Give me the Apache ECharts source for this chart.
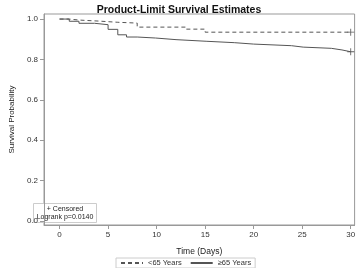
<!DOCTYPE html>
<html>
<head>
<meta charset="utf-8">
<script src="https://cdn.jsdelivr.net/npm/echarts@6/dist/echarts.min.js"></script>
<style>
  html, body { margin: 0; padding: 0; background: #fff; }
  #chart { width: 358px; height: 268px; }
</style>
</head>
<body>
<div id="chart"></div>
<script>
// KM step points [day, survival] for each group
const youngSteps = [[0, 1.0], [1, 0.995], [2, 0.99], [4, 0.984], [6, 0.98], [8, 0.96], [13, 0.95], [15, 0.935], [30, 0.935]];
const oldSteps = [[0, 1.0], [1, 0.989], [2, 0.979], [3.6, 0.972], [5, 0.949], [6, 0.922], [6.9, 0.911], [8, 0.906], [9.9, 0.898], [12, 0.89], [15.1, 0.883], [18, 0.876], [20, 0.868], [23.9, 0.861], [25.1, 0.855], [28, 0.847], [29.1, 0.838], [30, 0.838]];
const youngCensored = [[30, 0.935]];
const oldCensored = [[30, 0.838]];
const xTicks = [0, 5, 10, 15, 20, 25, 30];
const yTicks = [0, 0.2, 0.4, 0.6, 0.8, 1.0];

const chart = echarts.init(document.getElementById('chart'));
const font = 'Liberation Sans, Arial, sans-serif';
const lineCol = '#555';
const plus = 'path://M0,4.4h10v1.2h-10z M4.4,0h1.2v10h-1.2z';

chart.setOption({
  animation: false,
  title: {
    text: 'Product-Limit Survival Estimates',
    left: 'center',
    top: 0,
    textStyle: { fontFamily: font, fontSize: 10.5, fontWeight: 'bold', color: '#111' }
  },
  grid: {
    left: 30, right: 2, top: 14, bottom: 43,
    show: true, borderColor: '#999', borderWidth: 1
  },
  legend: {
    data: ['<65 Years', '\u226565 Years'],
    bottom: 0,
    left: 116,
    itemWidth: 22,
    itemHeight: 8,
    itemGap: 8,
    padding: [1, 4],
    borderColor: '#ccc',
    borderWidth: 1,
    itemStyle: { opacity: 0 },
    textStyle: { fontFamily: font, fontSize: 7.5, color: '#333' }
  },
  xAxis: {
    type: 'value',
    min: -1.6,
    max: 30.4,
    name: 'Time (Days)',
    nameLocation: 'middle',
    nameGap: 22,
    nameTextStyle: { fontFamily: font, fontSize: 8.5, color: '#222' },
    splitLine: { show: false },
    axisLine: { show: true, onZero: false, lineStyle: { color: '#999' } },
    axisTick: { show: true, length: 4, customValues: xTicks, lineStyle: { color: '#999' } },
    axisLabel: { customValues: xTicks, fontFamily: font, fontSize: 8, color: '#333', margin: 6 }
  },
  yAxis: {
    type: 'value',
    min: -0.02,
    max: 1.025,
    name: 'Survival Probability',
    nameLocation: 'middle',
    nameGap: 20,
    nameTextStyle: { fontFamily: font, fontSize: 8, color: '#222' },
    splitLine: { show: false },
    axisLine: { show: true, onZero: false, lineStyle: { color: '#999' } },
    axisTick: { show: true, length: 4, customValues: yTicks, lineStyle: { color: '#999' } },
    axisLabel: {
      customValues: yTicks, fontFamily: font, fontSize: 8, color: '#333', margin: 6,
      formatter: v => v.toFixed(1)
    }
  },
  series: [
    {
      name: '<65 Years',
      type: 'line',
      step: 'end',
      data: youngSteps,
      symbol: 'none',
      lineStyle: { color: lineCol, width: 1, type: [4, 3] },
      itemStyle: { color: lineCol }
    },
    {
      name: '\u226565 Years',
      type: 'line',
      step: 'end',
      data: oldSteps,
      symbol: 'none',
      lineStyle: { color: lineCol, width: 1 },
      itemStyle: { color: lineCol }
    },
    {
      name: 'cens1',
      type: 'scatter',
      data: youngCensored.concat(oldCensored),
      symbol: plus,
      symbolSize: 7,
      itemStyle: { color: '#333' }
    }
  ],
  graphic: [
    {
      type: 'group',
      left: 33,
      top: 203,
      children: [
        {
          type: 'rect',
          shape: { x: 0, y: 0, width: 63, height: 19 },
          style: { fill: '#fff', stroke: '#ccc', lineWidth: 1 }
        },
        {
          type: 'text',
          style: { x: 31.5, y: 2, text: '+ Censored', align: 'center', font: '7px ' + font, fill: '#222' }
        },
        {
          type: 'text',
          style: { x: 31.5, y: 10.5, text: 'Logrank p=0.0140', align: 'center', font: '7px ' + font, fill: '#222' }
        }
      ]
    }
  ]
});
</script>
</body>
</html>
